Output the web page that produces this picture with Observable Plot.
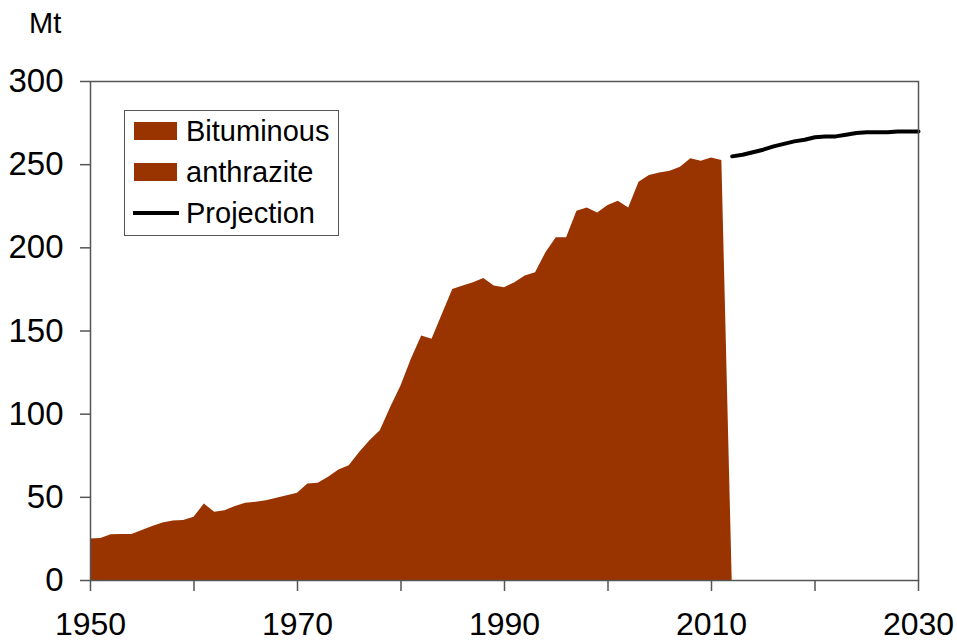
<!DOCTYPE html>
<html>
<head>
<meta charset="utf-8">
<script src="https://cdn.jsdelivr.net/npm/d3@7"></script>
<script src="https://cdn.jsdelivr.net/npm/@observablehq/plot@0.6"></script>
<style>
  html, body { margin: 0; padding: 0; background: #fff; }
  #wrap { position: relative; width: 957px; height: 644px; font-family: "Liberation Sans", Arial, sans-serif; }
  #unit { position: absolute; left: 29px; top: 9px; font-size: 29px; color: #000; line-height: 1; }
  #legend { position: absolute; left: 124px; top: 110px; width: 215px; height: 126px; border: 1.5px solid #555; background: #fff; box-sizing: border-box; }
  .item { position: absolute; left: 0; height: 30px; display: flex; align-items: center; font-size: 29px; color: #000; white-space: nowrap; }
  .sw { display: inline-block; width: 43px; height: 18px; background: #993300; margin-left: 9px; margin-right: 9px; }
  .ln { display: inline-block; width: 46px; height: 4px; background: #000; margin-left: 8px; margin-right: 7px; }
</style>
</head>
<body>
<div id="wrap">
  <div id="chart"></div>
  <div id="unit">Mt</div>
  <div id="legend"></div>
</div>
<script>
const histYears = [1950,1951,1952,1953,1954,1955,1956,1957,1958,1959,1960,1961,1962,1963,1964,1965,1966,1967,1968,1969,1970,1971,1972,1973,1974,1975,1976,1977,1978,1979,1980,1981,1982,1983,1984,1985,1986,1987,1988,1989,1990,1991,1992,1993,1994,1995,1996,1997,1998,1999,2000,2001,2002,2003,2004,2005,2006,2007,2008,2009,2010,2011,2012];
const histValues = [25,25.3,27.5,27.7,27.7,30,32.5,34.5,35.7,36,38,46,41,42,44.5,46.5,47,48,49.5,51,52.5,58,58.5,62,66.5,69,77,84,90,104,117,133,147,145,160,175,177,179,181.5,177,176,179,183,185,197,206,206,222,224,221,225.5,228,224,239.5,243.5,245,246,248.5,253.5,252,254,252.5,0];
const projYears = [2012,2013,2014,2015,2016,2017,2018,2019,2020,2021,2022,2023,2024,2025,2026,2027,2028,2029,2030];
const projValues = [255,256,257.5,259,261,262.5,264,265,266.5,267,267,268,269,269.5,269.5,269.5,270,270,270];
const yTicks = [0,50,100,150,200,250,300];
const xTicks = [1950,1960,1970,1980,1990,2000,2010,2020,2030];
const xLabels = [1950,1970,1990,2010,2030];
const legendItems = [
  {label: "Bituminous", kind: "swatch"},
  {label: "anthrazite", kind: "swatch"},
  {label: "Projection", kind: "line"}
];

const hist = histYears.map((y, i) => ({year: y, value: histValues[i]}));
const proj = projYears.map((y, i) => ({year: y, value: projValues[i]}));

const chart = Plot.plot({
  width: 957,
  height: 644,
  marginLeft: 90,
  marginRight: 39,
  marginTop: 81,
  marginBottom: 64,
  style: {fontFamily: "'Liberation Sans', Arial, sans-serif", color: "#000", background: "#fff"},
  x: {domain: [1950, 2030]},
  y: {domain: [0, 300]},
  marks: [
    Plot.areaY(hist, {x: "year", y: "value", fill: "#993300"}),
    Plot.lineY(proj, {x: "year", y: "value", stroke: "#000", strokeWidth: 4, strokeLinejoin: "round", strokeLinecap: "round"}),
    Plot.frame({stroke: "#555", strokeWidth: 1.5}),
    Plot.axisY({ticks: yTicks, tickSize: 10, tickPadding: 17, fontSize: 33, label: null, stroke: "#555", strokeWidth: 1.5}),
    Plot.axisX({ticks: xTicks, tickSize: 11, tickPadding: 21, fontSize: 32, label: null, stroke: "#555", strokeWidth: 1.5,
      tickFormat: d => xLabels.includes(d) ? String(d) : ""})
  ]
});
document.getElementById("chart").appendChild(chart);

const legend = document.getElementById("legend");
legendItems.forEach((it, i) => {
  const row = document.createElement("div");
  row.className = "item";
  row.style.top = (5 + i * 41) + "px";
  const mark = document.createElement("span");
  mark.className = it.kind === "swatch" ? "sw" : "ln";
  row.appendChild(mark);
  const t = document.createElement("span");
  t.textContent = it.label;
  row.appendChild(t);
  legend.appendChild(row);
});
</script>
</body>
</html>
